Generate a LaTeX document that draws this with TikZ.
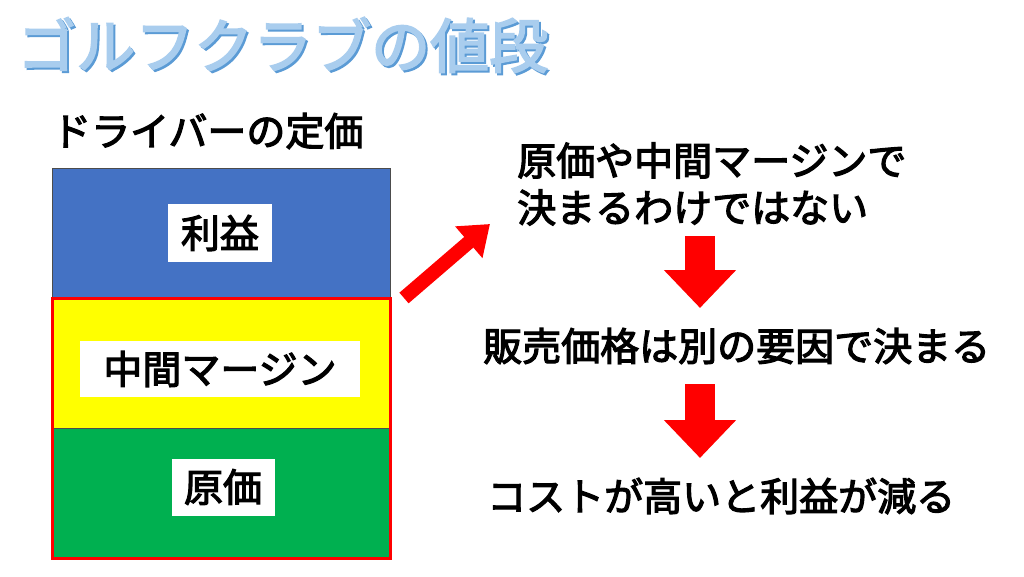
\documentclass[tikz,border=0pt]{standalone}
\usepackage{fontspec}
\newfontfamily\cjk{Noto Sans CJK JP}[FakeBold=3]
\usetikzlibrary{arrows.meta,positioning}
\definecolor{titlefill}{HTML}{A9CDEE}
\definecolor{titleline}{HTML}{5B9BD5}
\definecolor{profit}{HTML}{4472C4}
\definecolor{margin}{HTML}{FFFF00}
\definecolor{cost}{HTML}{00B050}
\definecolor{arrowred}{HTML}{FF0000}

\begin{document}
\begin{tikzpicture}[
    x=1pt, y=-1pt,
    txt/.style={inner sep=0pt, anchor=west, font=\cjk\fontsize{39}{50}\selectfont},
    tag/.style={fill=white, inner sep=0pt, font=\cjk\fontsize{39}{50}\selectfont},
    band/.style={draw=black!70, line width=0.6pt},
    downarr/.style={arrowred, line width=30pt, -{Triangle[length=38pt, width=70pt]}},
    slant/.style={arrowred, line width=14pt, -{Triangle[length=28pt, width=40pt]}}
  ]
    \useasboundingbox[fill=white] (0,0) rectangle (1024,577);
    % title
    \node[txt, text=titleline] at (19,47) {\fontsize{59}{62}\selectfont ゴルフクラブの値段};
    \node[txt, text=titlefill] (title) at (17,45) {\fontsize{59}{62}\selectfont ゴルフクラブの値段};
    \node[txt] (head) at (52,131) {ドライバーの定価};
    % price bands
    \fill[band, fill=profit] (52,168) rectangle (390,298);
    \fill[band, fill=margin] (52,298) rectangle (390,428);
    \fill[band, fill=cost] (52,428) rectangle (390,558);
    \draw[arrowred, line width=3pt] (52,298) rectangle (390,558);
    \node[tag, minimum width=104pt, minimum height=57pt] (profit) at (220,233) {利益};
    \node[tag, minimum width=280pt, minimum height=56pt] (margin) at (220,369) {中間マージン};
    \node[tag, minimum width=103pt, minimum height=57pt] (cost) at (223,487) {原価};
    % statements
    \node[txt, align=left, font=\cjk\fontsize{39}{47}\selectfont] (claim) at (517,184) {原価や中間マージンで\\決まるわけではない};
    \node[txt] (price) at (483,346) {販売価格は別の要因で決まる};
    \node[txt] (result) at (487,496) {コストが高いと利益が減る};
    % arrows
    \coordinate (s0) at (404,298);
    \coordinate (e0) at (490,224);
    \coordinate (s1) at (700,236);
    \coordinate (e1) at (700,308);
    \coordinate (s2) at (700,384);
    \coordinate (e2) at (700,458);
    \draw[slant] (s0) -- (e0);
    \draw[downarr] (s1) -- (e1);
    \draw[downarr] (s2) -- (e2);
  \end{tikzpicture}
\end{document}
